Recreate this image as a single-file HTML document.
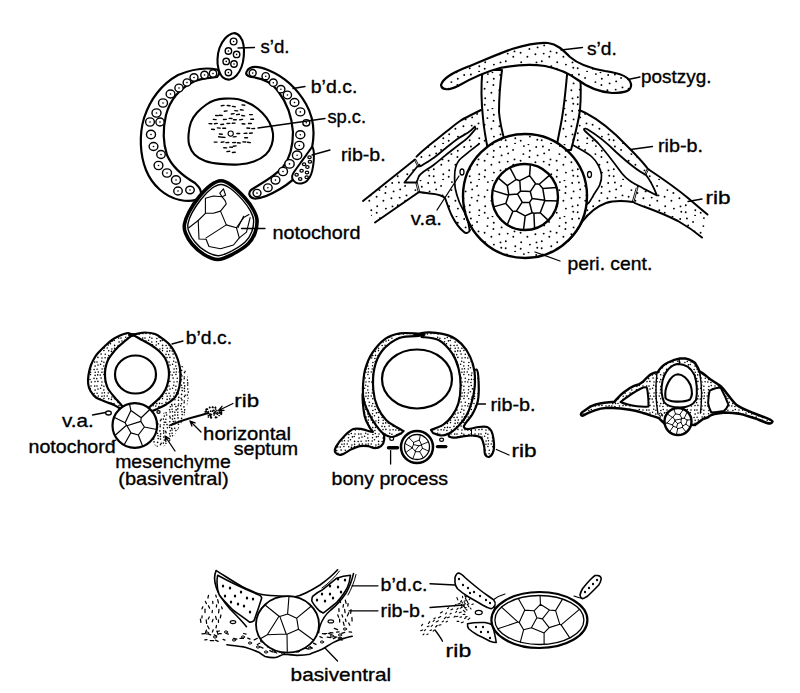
<!DOCTYPE html>
<html><head><meta charset="utf-8"><style>
html,body{margin:0;padding:0;background:#fff;}
svg{display:block;}
text{font-family:"Liberation Sans",sans-serif;fill:#000;stroke:#000;stroke-width:0.35px;}
</style></head><body>
<svg width="800" height="693" viewBox="0 0 800 693">
<defs>
<pattern id="st" width="36" height="36" patternUnits="userSpaceOnUse"><rect width="36" height="36" fill="#fff"/><circle cx="2.9" cy="2.5" r="0.95" fill="#000"/><circle cx="4.2" cy="9.4" r="0.95" fill="#000"/><circle cx="3.7" cy="17.6" r="0.95" fill="#000"/><circle cx="1.8" cy="25.2" r="0.95" fill="#000"/><circle cx="1.7" cy="32.2" r="0.95" fill="#000"/><circle cx="9.1" cy="5.9" r="0.95" fill="#000"/><circle cx="10.5" cy="15.4" r="0.95" fill="#000"/><circle cx="9.3" cy="20.7" r="0.95" fill="#000"/><circle cx="11.3" cy="30.2" r="0.95" fill="#000"/><circle cx="11.1" cy="35.7" r="0.95" fill="#000"/><circle cx="19.9" cy="2.1" r="0.95" fill="#000"/><circle cx="19.4" cy="10.1" r="0.95" fill="#000"/><circle cx="16.6" cy="16.8" r="0.95" fill="#000"/><circle cx="17.2" cy="26.2" r="0.95" fill="#000"/><circle cx="16.7" cy="32.7" r="0.95" fill="#000"/><circle cx="25.8" cy="6.8" r="0.95" fill="#000"/><circle cx="25.4" cy="13.0" r="0.95" fill="#000"/><circle cx="23.4" cy="20.7" r="0.95" fill="#000"/><circle cx="25.9" cy="28.6" r="0.95" fill="#000"/><circle cx="24.5" cy="0.3" r="0.95" fill="#000"/><circle cx="32.2" cy="3.0" r="0.95" fill="#000"/><circle cx="33.6" cy="11.4" r="0.95" fill="#000"/><circle cx="31.4" cy="18.2" r="0.95" fill="#000"/><circle cx="32.5" cy="26.4" r="0.95" fill="#000"/><circle cx="33.3" cy="31.7" r="0.95" fill="#000"/></pattern>
<pattern id="st2" width="24" height="24" patternUnits="userSpaceOnUse"><rect width="24" height="24" fill="#fff"/><circle cx="1.0" cy="2.1" r="0.78" fill="#000"/><circle cx="2.0" cy="5.1" r="0.78" fill="#000"/><circle cx="1.1" cy="9.2" r="0.78" fill="#000"/><circle cx="2.3" cy="12.0" r="0.78" fill="#000"/><circle cx="1.7" cy="14.9" r="0.78" fill="#000"/><circle cx="0.7" cy="18.6" r="0.78" fill="#000"/><circle cx="1.9" cy="21.4" r="0.78" fill="#000"/><circle cx="5.7" cy="1.2" r="0.78" fill="#000"/><circle cx="4.6" cy="4.2" r="0.78" fill="#000"/><circle cx="6.1" cy="9.0" r="0.78" fill="#000"/><circle cx="5.9" cy="12.2" r="0.78" fill="#000"/><circle cx="4.2" cy="15.1" r="0.78" fill="#000"/><circle cx="5.1" cy="18.1" r="0.78" fill="#000"/><circle cx="6.0" cy="22.0" r="0.78" fill="#000"/><circle cx="7.9" cy="2.3" r="0.78" fill="#000"/><circle cx="7.8" cy="6.0" r="0.78" fill="#000"/><circle cx="8.5" cy="8.7" r="0.78" fill="#000"/><circle cx="8.3" cy="12.0" r="0.78" fill="#000"/><circle cx="7.9" cy="14.5" r="0.78" fill="#000"/><circle cx="9.3" cy="18.3" r="0.78" fill="#000"/><circle cx="9.1" cy="21.7" r="0.78" fill="#000"/><circle cx="12.9" cy="2.5" r="0.78" fill="#000"/><circle cx="12.5" cy="5.7" r="0.78" fill="#000"/><circle cx="12.2" cy="9.0" r="0.78" fill="#000"/><circle cx="11.2" cy="12.0" r="0.78" fill="#000"/><circle cx="12.7" cy="14.8" r="0.78" fill="#000"/><circle cx="12.8" cy="19.6" r="0.78" fill="#000"/><circle cx="11.8" cy="22.0" r="0.78" fill="#000"/><circle cx="15.3" cy="1.5" r="0.78" fill="#000"/><circle cx="16.4" cy="4.9" r="0.78" fill="#000"/><circle cx="14.5" cy="7.8" r="0.78" fill="#000"/><circle cx="15.9" cy="13.0" r="0.78" fill="#000"/><circle cx="15.4" cy="15.4" r="0.78" fill="#000"/><circle cx="15.5" cy="19.4" r="0.78" fill="#000"/><circle cx="14.9" cy="22.5" r="0.78" fill="#000"/><circle cx="19.0" cy="2.0" r="0.78" fill="#000"/><circle cx="18.2" cy="4.5" r="0.78" fill="#000"/><circle cx="18.6" cy="9.4" r="0.78" fill="#000"/><circle cx="18.6" cy="12.2" r="0.78" fill="#000"/><circle cx="18.5" cy="14.6" r="0.78" fill="#000"/><circle cx="18.0" cy="19.5" r="0.78" fill="#000"/><circle cx="19.4" cy="22.0" r="0.78" fill="#000"/><circle cx="22.7" cy="2.1" r="0.78" fill="#000"/><circle cx="23.1" cy="6.1" r="0.78" fill="#000"/><circle cx="22.1" cy="9.5" r="0.78" fill="#000"/><circle cx="23.2" cy="12.2" r="0.78" fill="#000"/><circle cx="23.1" cy="15.4" r="0.78" fill="#000"/><circle cx="22.0" cy="18.4" r="0.78" fill="#000"/><circle cx="23.0" cy="21.6" r="0.78" fill="#000"/></pattern>
<pattern id="st3" width="24" height="24" patternUnits="userSpaceOnUse"><circle cx="1.6" cy="1.7" r="0.82" fill="#000"/><circle cx="2.1" cy="4.1" r="0.82" fill="#000"/><circle cx="1.8" cy="8.2" r="0.82" fill="#000"/><circle cx="2.2" cy="9.9" r="0.82" fill="#000"/><circle cx="1.8" cy="13.7" r="0.82" fill="#000"/><circle cx="1.5" cy="17.3" r="0.82" fill="#000"/><circle cx="1.6" cy="19.4" r="0.82" fill="#000"/><circle cx="2.3" cy="22.7" r="0.82" fill="#000"/><circle cx="4.1" cy="1.2" r="0.82" fill="#000"/><circle cx="4.5" cy="3.7" r="0.82" fill="#000"/><circle cx="4.7" cy="7.9" r="0.82" fill="#000"/><circle cx="4.4" cy="11.1" r="0.82" fill="#000"/><circle cx="5.3" cy="13.6" r="0.82" fill="#000"/><circle cx="4.8" cy="15.8" r="0.82" fill="#000"/><circle cx="3.7" cy="20.4" r="0.82" fill="#000"/><circle cx="4.1" cy="22.0" r="0.82" fill="#000"/><circle cx="8.2" cy="1.9" r="0.82" fill="#000"/><circle cx="6.8" cy="4.2" r="0.82" fill="#000"/><circle cx="7.0" cy="7.1" r="0.82" fill="#000"/><circle cx="6.6" cy="10.5" r="0.82" fill="#000"/><circle cx="7.1" cy="13.3" r="0.82" fill="#000"/><circle cx="6.9" cy="15.8" r="0.82" fill="#000"/><circle cx="6.7" cy="20.2" r="0.82" fill="#000"/><circle cx="7.9" cy="22.6" r="0.82" fill="#000"/><circle cx="9.8" cy="0.9" r="0.82" fill="#000"/><circle cx="9.8" cy="4.2" r="0.82" fill="#000"/><circle cx="9.7" cy="7.1" r="0.82" fill="#000"/><circle cx="10.0" cy="9.9" r="0.82" fill="#000"/><circle cx="10.8" cy="13.4" r="0.82" fill="#000"/><circle cx="10.5" cy="16.2" r="0.82" fill="#000"/><circle cx="10.6" cy="20.0" r="0.82" fill="#000"/><circle cx="10.2" cy="21.7" r="0.82" fill="#000"/><circle cx="13.5" cy="1.3" r="0.82" fill="#000"/><circle cx="14.0" cy="3.8" r="0.82" fill="#000"/><circle cx="14.2" cy="6.6" r="0.82" fill="#000"/><circle cx="13.6" cy="10.4" r="0.82" fill="#000"/><circle cx="13.2" cy="14.2" r="0.82" fill="#000"/><circle cx="13.9" cy="15.9" r="0.82" fill="#000"/><circle cx="13.5" cy="19.7" r="0.82" fill="#000"/><circle cx="12.7" cy="21.8" r="0.82" fill="#000"/><circle cx="16.7" cy="1.9" r="0.82" fill="#000"/><circle cx="16.4" cy="4.4" r="0.82" fill="#000"/><circle cx="16.5" cy="7.1" r="0.82" fill="#000"/><circle cx="17.2" cy="11.3" r="0.82" fill="#000"/><circle cx="16.5" cy="12.6" r="0.82" fill="#000"/><circle cx="16.3" cy="17.0" r="0.82" fill="#000"/><circle cx="16.2" cy="18.8" r="0.82" fill="#000"/><circle cx="15.9" cy="22.9" r="0.82" fill="#000"/><circle cx="19.7" cy="1.1" r="0.82" fill="#000"/><circle cx="19.7" cy="5.0" r="0.82" fill="#000"/><circle cx="20.3" cy="8.1" r="0.82" fill="#000"/><circle cx="19.4" cy="11.1" r="0.82" fill="#000"/><circle cx="20.3" cy="14.2" r="0.82" fill="#000"/><circle cx="20.0" cy="16.7" r="0.82" fill="#000"/><circle cx="19.5" cy="20.1" r="0.82" fill="#000"/><circle cx="19.7" cy="22.9" r="0.82" fill="#000"/><circle cx="22.0" cy="0.8" r="0.82" fill="#000"/><circle cx="22.1" cy="4.7" r="0.82" fill="#000"/><circle cx="22.6" cy="7.0" r="0.82" fill="#000"/><circle cx="21.9" cy="11.3" r="0.82" fill="#000"/><circle cx="21.7" cy="14.3" r="0.82" fill="#000"/><circle cx="23.0" cy="16.6" r="0.82" fill="#000"/><circle cx="23.4" cy="19.8" r="0.82" fill="#000"/><circle cx="21.6" cy="23.3" r="0.82" fill="#000"/></pattern>
</defs>
<rect width="800" height="693" fill="#fff"/>
<g stroke="#000" fill="none" stroke-linejoin="round" stroke-linecap="round">
<path d="M217,69.5 C205,67 190,70 178,75 C162,84 150,100 144,118 C139,135 140,155 146,170 C152,185 165,197 180,200 C190,202 197,201 201,196 C202,190 199,187 195,183 C183,176 172,167 167,155 C163,143 163,128 166,115 C170,100 180,88 195,81 C205,77 212,78 217,77 C220,74 220,71 217,69.5 Z" fill="#fff" stroke-width="2.2" />
<path d="M247,71 C250,66 258,66 268,70 C285,77 298,90 306,104 C314,118 315,133 312,148 C308,165 296,180 280,189 C270,195 260,199 254,198.5 C249,197 248,193 251,190 C262,183 274,177 283,167 C291,157 293,145 293,132 C292,117 287,103 278,91 C272,83 262,78 251,77 C247,76 245,74 247,71 Z" fill="#fff" stroke-width="2.2" />
<path d="M233.6,33.2 C236.1,32.9 238.3,34.5 240.0,36.5 C241.7,38.5 242.9,41.8 243.5,45.0 C244.1,48.2 244.1,52.3 243.8,56.0 C243.5,59.7 242.7,63.8 241.5,67.0 C240.3,70.2 238.4,73.4 236.5,75.5 C234.6,77.6 232.2,79.2 230.0,79.5 C227.8,79.8 224.9,79.2 223.0,77.5 C221.1,75.8 219.4,72.1 218.5,69.0 C217.6,65.9 217.3,62.5 217.5,59.0 C217.7,55.5 218.2,51.4 219.5,48.0 C220.8,44.6 222.7,41.0 225.0,38.5 C227.3,36.0 231.1,33.5 233.6,33.2 Z" fill="#fff" stroke-width="2.1" />
<path d="M224.2,98.6 C228.1,98.4 233.8,98.2 238.4,99.2 C243.0,100.2 247.5,102.2 251.5,104.5 C255.5,106.8 259.2,109.8 262.2,112.8 C265.2,115.8 267.5,118.9 269.3,122.3 C271.1,125.7 272.5,129.2 272.9,133.0 C273.3,136.8 272.9,141.3 271.7,144.9 C270.5,148.5 268.8,151.6 265.8,154.4 C262.8,157.2 258.5,159.8 253.9,161.5 C249.3,163.2 244.0,164.1 238.4,164.5 C232.8,164.9 226.1,164.5 220.6,163.9 C215.1,163.3 209.5,162.5 205.2,160.9 C200.8,159.3 197.2,157.1 194.5,154.4 C191.8,151.7 190.2,148.3 189.2,144.9 C188.2,141.5 188.3,138.0 188.6,134.2 C188.9,130.4 189.5,125.9 190.9,122.3 C192.3,118.7 194.3,115.8 196.9,112.8 C199.5,109.8 203.4,106.6 206.4,104.5 C209.4,102.4 211.7,101.3 214.7,100.3 C217.7,99.3 220.2,98.8 224.2,98.6 Z" fill="#fff" stroke-width="2.1" />
<path d="M312.4,147.2 C313.0,148.0 313.8,151.4 313.9,154.4 C314.0,157.4 313.7,161.9 313.2,165.3 C312.7,168.7 312.0,172.2 311.0,174.7 C310.0,177.2 308.8,179.0 307.4,180.4 C305.9,181.8 304.2,182.9 302.3,183.3 C300.4,183.7 297.5,183.4 295.8,182.6 C294.1,181.8 292.7,179.8 292.2,178.3 C291.7,176.9 291.7,176.2 292.9,173.9 C294.1,171.6 297.1,167.8 299.4,164.5 C301.7,161.2 304.9,156.9 306.7,154.4 C308.5,151.9 309.4,150.6 310.3,149.4 C311.2,148.2 311.8,146.4 312.4,147.2 Z" fill="#fff" stroke-width="2.0" />
<path d="M221.0,180.8 C224.3,180.8 227.0,182.1 231.0,185.0 C235.0,187.9 241.2,193.8 245.0,198.0 C248.8,202.2 251.5,206.3 253.5,210.0 C255.5,213.7 256.8,216.2 257.0,220.0 C257.2,223.8 256.5,229.0 255.0,233.0 C253.5,237.0 251.7,240.5 248.0,244.0 C244.3,247.5 238.0,251.4 233.0,254.0 C228.0,256.6 222.8,259.4 218.0,259.5 C213.2,259.6 208.3,257.1 204.0,254.5 C199.7,251.9 195.1,247.6 192.0,244.0 C188.9,240.4 186.8,236.3 185.5,233.0 C184.2,229.7 183.9,227.5 184.5,224.0 C185.1,220.5 186.6,216.5 189.0,212.0 C191.4,207.5 195.3,201.5 199.0,197.0 C202.7,192.5 207.3,187.7 211.0,185.0 C214.7,182.3 217.7,180.8 221.0,180.8 Z" fill="#fff" stroke-width="3.6" />
<path d="M221.0,184.5 C224.0,184.5 226.4,185.7 230.1,188.3 C233.7,190.9 239.3,196.3 242.7,200.1 C246.1,203.9 248.6,207.6 250.4,210.9 C252.2,214.3 253.4,216.5 253.6,220.0 C253.8,223.5 253.1,228.1 251.8,231.8 C250.4,235.4 248.8,238.6 245.4,241.7 C242.1,244.9 236.4,248.4 231.9,250.8 C227.3,253.1 222.7,255.7 218.3,255.7 C213.9,255.8 209.5,253.6 205.6,251.2 C201.7,248.9 197.5,245.0 194.8,241.7 C192.0,238.5 190.0,234.8 188.9,231.8 C187.7,228.7 187.4,226.8 188.0,223.6 C188.5,220.5 189.9,216.8 192.0,212.8 C194.2,208.7 197.8,203.3 201.1,199.2 C204.4,195.1 208.6,190.8 211.9,188.3 C215.3,185.9 218.0,184.5 221.0,184.5 Z" fill="none" stroke-width="1.4"/>
<polyline points="219.8,193.1 223.4,188.8 225.6,195.3 222.0,196.7 219.8,193.1" stroke-width="1.1"/>
<polyline points="205.4,198.2 213.3,196.0 222.0,196.7 224.9,200.3 226.3,203.9 220.5,211.1 213.3,213.3 205.4,213.3 205.4,198.2" stroke-width="1.1"/>
<polyline points="220.5,211.1 226.3,224.9 236.4,227.7 243.6,217.6 249.0,214.5" stroke-width="1.1"/>
<polyline points="226.3,224.9 206.1,237.9" stroke-width="1.1"/>
<polyline points="205.4,213.3 198.2,220.5 199.0,239.0 206.1,239.3 209.0,246.5 220.5,248.7 233.5,245.0 239.3,237.9 236.4,227.7" stroke-width="1.1"/>
<polyline points="188.8,227.7 198.2,220.5" stroke-width="1.1"/>
<polyline points="239.3,237.9 246.5,232.1 250.1,217.6" stroke-width="1.1"/>
<polyline points="243.6,216.2 237.9,227.7" stroke-width="1.1"/>
<ellipse cx="213" cy="73.5" rx="3.72" ry="3.72" fill="#fff" stroke-width="1.4"/>
<circle cx="213" cy="73.5" r="0.8" fill="#000" stroke="none"/>
<ellipse cx="204.5" cy="75" rx="3.72" ry="3.72" fill="#fff" stroke-width="1.4"/>
<circle cx="204.5" cy="75" r="0.8" fill="#000" stroke="none"/>
<ellipse cx="194" cy="77.5" rx="3.99" ry="3.72" fill="#fff" stroke-width="1.4"/>
<circle cx="194" cy="77.5" r="0.8" fill="#000" stroke="none"/>
<ellipse cx="187" cy="82.5" rx="3.86" ry="3.59" fill="#fff" stroke-width="1.4"/>
<circle cx="187" cy="82.5" r="0.8" fill="#000" stroke="none"/>
<ellipse cx="179" cy="88" rx="4.12" ry="3.86" fill="#fff" stroke-width="1.4"/>
<circle cx="179" cy="88" r="0.8" fill="#000" stroke="none"/>
<ellipse cx="170.5" cy="94" rx="4.39" ry="3.99" fill="#fff" stroke-width="1.4"/>
<circle cx="170.5" cy="94" r="0.8" fill="#000" stroke="none"/>
<ellipse cx="163" cy="103" rx="4.52" ry="4.12" fill="#fff" stroke-width="1.4"/>
<circle cx="163" cy="103" r="0.8" fill="#000" stroke="none"/>
<ellipse cx="156.5" cy="113" rx="4.52" ry="4.12" fill="#fff" stroke-width="1.4"/>
<circle cx="156.5" cy="113" r="0.8" fill="#000" stroke="none"/>
<ellipse cx="150" cy="122" rx="4.39" ry="4.12" fill="#fff" stroke-width="1.4"/>
<circle cx="150" cy="122" r="0.8" fill="#000" stroke="none"/>
<ellipse cx="160" cy="122" rx="4.12" ry="3.99" fill="#fff" stroke-width="1.4"/>
<circle cx="160" cy="122" r="0.8" fill="#000" stroke="none"/>
<ellipse cx="151" cy="134.5" rx="4.52" ry="4.26" fill="#fff" stroke-width="1.4"/>
<circle cx="151" cy="134.5" r="0.8" fill="#000" stroke="none"/>
<ellipse cx="153.5" cy="146.5" rx="4.39" ry="3.99" fill="#fff" stroke-width="1.4"/>
<circle cx="153.5" cy="146.5" r="0.8" fill="#000" stroke="none"/>
<ellipse cx="161" cy="154.5" rx="4.26" ry="3.99" fill="#fff" stroke-width="1.4"/>
<circle cx="161" cy="154.5" r="0.8" fill="#000" stroke="none"/>
<ellipse cx="158.5" cy="165.5" rx="4.39" ry="4.12" fill="#fff" stroke-width="1.4"/>
<circle cx="158.5" cy="165.5" r="0.8" fill="#000" stroke="none"/>
<ellipse cx="167" cy="173" rx="4.52" ry="4.12" fill="#fff" stroke-width="1.4"/>
<circle cx="167" cy="173" r="0.8" fill="#000" stroke="none"/>
<ellipse cx="176" cy="180" rx="4.52" ry="4.26" fill="#fff" stroke-width="1.4"/>
<circle cx="176" cy="180" r="0.8" fill="#000" stroke="none"/>
<ellipse cx="178" cy="191" rx="4.26" ry="3.99" fill="#fff" stroke-width="1.4"/>
<circle cx="178" cy="191" r="0.8" fill="#000" stroke="none"/>
<ellipse cx="190" cy="190" rx="4.26" ry="3.72" fill="#fff" stroke-width="1.4"/>
<circle cx="190" cy="190" r="0.8" fill="#000" stroke="none"/>
<ellipse cx="252.7" cy="73" rx="3.46" ry="3.46" fill="#fff" stroke-width="1.4"/>
<circle cx="252.7" cy="73" r="0.8" fill="#000" stroke="none"/>
<ellipse cx="265.7" cy="76.2" rx="3.72" ry="3.59" fill="#fff" stroke-width="1.4"/>
<circle cx="265.7" cy="76.2" r="0.8" fill="#000" stroke="none"/>
<ellipse cx="273.3" cy="82.7" rx="3.86" ry="3.72" fill="#fff" stroke-width="1.4"/>
<circle cx="273.3" cy="82.7" r="0.8" fill="#000" stroke="none"/>
<ellipse cx="280.9" cy="89.2" rx="3.99" ry="3.72" fill="#fff" stroke-width="1.4"/>
<circle cx="280.9" cy="89.2" r="0.8" fill="#000" stroke="none"/>
<ellipse cx="287.4" cy="95" rx="4.12" ry="3.86" fill="#fff" stroke-width="1.4"/>
<circle cx="287.4" cy="95" r="0.8" fill="#000" stroke="none"/>
<ellipse cx="294.5" cy="102.5" rx="4.39" ry="3.99" fill="#fff" stroke-width="1.4"/>
<circle cx="294.5" cy="102.5" r="0.8" fill="#000" stroke="none"/>
<ellipse cx="300.3" cy="111.9" rx="4.52" ry="3.99" fill="#fff" stroke-width="1.4"/>
<circle cx="300.3" cy="111.9" r="0.8" fill="#000" stroke="none"/>
<ellipse cx="306.3" cy="122.8" rx="3.46" ry="3.19" fill="#fff" stroke-width="1.4"/>
<circle cx="306.3" cy="122.8" r="0.8" fill="#000" stroke="none"/>
<ellipse cx="300.3" cy="134.7" rx="4.52" ry="3.99" fill="#fff" stroke-width="1.4"/>
<circle cx="300.3" cy="134.7" r="0.8" fill="#000" stroke="none"/>
<ellipse cx="299.3" cy="145.5" rx="4.66" ry="4.12" fill="#fff" stroke-width="1.4"/>
<circle cx="299.3" cy="145.5" r="0.8" fill="#000" stroke="none"/>
<ellipse cx="297.1" cy="155.2" rx="4.66" ry="4.26" fill="#fff" stroke-width="1.4"/>
<circle cx="297.1" cy="155.2" r="0.8" fill="#000" stroke="none"/>
<ellipse cx="289.5" cy="163.9" rx="4.66" ry="4.26" fill="#fff" stroke-width="1.4"/>
<circle cx="289.5" cy="163.9" r="0.8" fill="#000" stroke="none"/>
<ellipse cx="283" cy="171.5" rx="4.52" ry="4.12" fill="#fff" stroke-width="1.4"/>
<circle cx="283" cy="171.5" r="0.8" fill="#000" stroke="none"/>
<ellipse cx="275.5" cy="180.1" rx="4.39" ry="3.99" fill="#fff" stroke-width="1.4"/>
<circle cx="275.5" cy="180.1" r="0.8" fill="#000" stroke="none"/>
<ellipse cx="267.9" cy="187.7" rx="4.26" ry="3.86" fill="#fff" stroke-width="1.4"/>
<circle cx="267.9" cy="187.7" r="0.8" fill="#000" stroke="none"/>
<ellipse cx="257" cy="193.1" rx="3.99" ry="3.72" fill="#fff" stroke-width="1.4"/>
<circle cx="257" cy="193.1" r="0.8" fill="#000" stroke="none"/>
<ellipse cx="233.6" cy="41.5" rx="3.33" ry="3.33" fill="#fff" stroke-width="1.4"/>
<circle cx="233.6" cy="41.5" r="0.8" fill="#000" stroke="none"/>
<ellipse cx="228.4" cy="51" rx="3.22" ry="3.22" fill="#fff" stroke-width="1.4"/>
<circle cx="228.4" cy="51" r="0.8" fill="#000" stroke="none"/>
<ellipse cx="236.6" cy="54.4" rx="3.22" ry="3.22" fill="#fff" stroke-width="1.4"/>
<circle cx="236.6" cy="54.4" r="0.8" fill="#000" stroke="none"/>
<ellipse cx="226.2" cy="61.4" rx="3.22" ry="3.22" fill="#fff" stroke-width="1.4"/>
<circle cx="226.2" cy="61.4" r="0.8" fill="#000" stroke="none"/>
<ellipse cx="234" cy="64" rx="3.22" ry="3.22" fill="#fff" stroke-width="1.4"/>
<circle cx="234" cy="64" r="0.8" fill="#000" stroke="none"/>
<ellipse cx="228.4" cy="72.6" rx="3.22" ry="3.22" fill="#fff" stroke-width="1.4"/>
<circle cx="228.4" cy="72.6" r="0.8" fill="#000" stroke="none"/>
<ellipse cx="309.5" cy="157.3" rx="1.7" ry="1.4" fill="none" stroke-width="1.2"/>
<ellipse cx="309.9" cy="161.7" rx="1.7" ry="1.4" fill="none" stroke-width="1.2"/>
<ellipse cx="304.1" cy="164.2" rx="1.7" ry="1.4" fill="none" stroke-width="1.2"/>
<ellipse cx="307.4" cy="167.1" rx="1.7" ry="1.4" fill="none" stroke-width="1.2"/>
<ellipse cx="301.6" cy="170.7" rx="1.7" ry="1.4" fill="none" stroke-width="1.2"/>
<ellipse cx="307" cy="172.5" rx="1.7" ry="1.4" fill="none" stroke-width="1.2"/>
<ellipse cx="296.6" cy="174.7" rx="1.7" ry="1.4" fill="none" stroke-width="1.2"/>
<ellipse cx="306.7" cy="177.2" rx="1.7" ry="1.4" fill="none" stroke-width="1.2"/>
<ellipse cx="300.2" cy="179" rx="1.7" ry="1.4" fill="none" stroke-width="1.2"/>
<line x1="221.3" y1="105.8" x2="224.1" y2="105.4" stroke-width="1.4"/>
<line x1="227.2" y1="105.5" x2="230.0" y2="105.8" stroke-width="1.4"/>
<line x1="232.4" y1="106.4" x2="235.2" y2="106.7" stroke-width="1.4"/>
<line x1="242.0" y1="104.9" x2="244.8" y2="105.2" stroke-width="1.4"/>
<line x1="224.3" y1="111.2" x2="227.1" y2="110.9" stroke-width="1.4"/>
<line x1="234.8" y1="110.6" x2="237.6" y2="110.9" stroke-width="1.4"/>
<line x1="240.4" y1="109.8" x2="243.2" y2="110.1" stroke-width="1.4"/>
<line x1="215.7" y1="115.5" x2="218.5" y2="115.6" stroke-width="1.4"/>
<line x1="219.4" y1="115.2" x2="222.2" y2="115.5" stroke-width="1.4"/>
<line x1="231.3" y1="114.0" x2="234.1" y2="113.6" stroke-width="1.4"/>
<line x1="236.6" y1="114.6" x2="239.4" y2="114.3" stroke-width="1.4"/>
<line x1="241.8" y1="115.5" x2="244.6" y2="115.9" stroke-width="1.4"/>
<line x1="249.6" y1="114.6" x2="252.4" y2="114.6" stroke-width="1.4"/>
<line x1="213.3" y1="119.4" x2="216.1" y2="119.6" stroke-width="1.4"/>
<line x1="223.5" y1="119.5" x2="226.3" y2="119.4" stroke-width="1.4"/>
<line x1="229.2" y1="118.4" x2="232.0" y2="118.5" stroke-width="1.4"/>
<line x1="233.5" y1="119.7" x2="236.3" y2="119.8" stroke-width="1.4"/>
<line x1="239.8" y1="119.8" x2="242.6" y2="119.4" stroke-width="1.4"/>
<line x1="250.8" y1="119.3" x2="253.6" y2="119.2" stroke-width="1.4"/>
<line x1="209.0" y1="123.6" x2="211.8" y2="123.7" stroke-width="1.4"/>
<line x1="214.5" y1="123.8" x2="217.3" y2="123.4" stroke-width="1.4"/>
<line x1="220.8" y1="124.5" x2="223.6" y2="124.2" stroke-width="1.4"/>
<line x1="227.0" y1="123.5" x2="229.8" y2="123.4" stroke-width="1.4"/>
<line x1="232.3" y1="123.2" x2="235.1" y2="123.1" stroke-width="1.4"/>
<line x1="242.1" y1="123.7" x2="244.9" y2="124.0" stroke-width="1.4"/>
<line x1="248.5" y1="123.5" x2="251.3" y2="123.5" stroke-width="1.4"/>
<line x1="211.6" y1="129.2" x2="214.4" y2="129.5" stroke-width="1.4"/>
<line x1="217.4" y1="127.9" x2="220.2" y2="128.1" stroke-width="1.4"/>
<line x1="222.8" y1="128.3" x2="225.6" y2="128.2" stroke-width="1.4"/>
<line x1="246.9" y1="128.0" x2="249.7" y2="128.3" stroke-width="1.4"/>
<line x1="251.8" y1="128.6" x2="254.6" y2="128.5" stroke-width="1.4"/>
<line x1="219.4" y1="134.0" x2="222.2" y2="134.3" stroke-width="1.4"/>
<line x1="236.9" y1="133.5" x2="239.7" y2="133.5" stroke-width="1.4"/>
<line x1="244.1" y1="133.4" x2="246.9" y2="133.2" stroke-width="1.4"/>
<line x1="249.5" y1="133.2" x2="252.3" y2="133.0" stroke-width="1.4"/>
<line x1="218.6" y1="136.8" x2="221.4" y2="137.1" stroke-width="1.4"/>
<line x1="222.2" y1="137.3" x2="225.0" y2="137.4" stroke-width="1.4"/>
<line x1="233.3" y1="136.9" x2="236.1" y2="136.6" stroke-width="1.4"/>
<line x1="244.7" y1="137.8" x2="247.5" y2="137.7" stroke-width="1.4"/>
<line x1="214.2" y1="142.1" x2="217.0" y2="142.1" stroke-width="1.4"/>
<line x1="221.2" y1="142.2" x2="224.0" y2="141.9" stroke-width="1.4"/>
<line x1="225.9" y1="142.6" x2="228.7" y2="142.5" stroke-width="1.4"/>
<line x1="232.6" y1="142.6" x2="235.4" y2="142.5" stroke-width="1.4"/>
<line x1="237.4" y1="142.8" x2="240.2" y2="143.0" stroke-width="1.4"/>
<line x1="242.9" y1="141.9" x2="245.7" y2="142.0" stroke-width="1.4"/>
<line x1="247.5" y1="142.2" x2="250.3" y2="142.6" stroke-width="1.4"/>
<line x1="223.8" y1="147.8" x2="226.6" y2="147.9" stroke-width="1.4"/>
<line x1="229.6" y1="147.1" x2="232.4" y2="147.2" stroke-width="1.4"/>
<line x1="233.3" y1="146.3" x2="236.1" y2="145.9" stroke-width="1.4"/>
<line x1="226.9" y1="151.6" x2="229.7" y2="151.3" stroke-width="1.4"/>
<line x1="232.4" y1="152.5" x2="235.2" y2="152.3" stroke-width="1.4"/>
<circle cx="230.7" cy="133.6" r="2.6" fill="#fff" stroke-width="1.1"/>
<line x1="238" y1="48" x2="254.5" y2="47.5" stroke-width="1.3"/>
<line x1="293" y1="88.5" x2="305" y2="86.5" stroke-width="1.3"/>
<line x1="258" y1="128" x2="325" y2="118.5" stroke-width="1.3"/>
<line x1="312" y1="155" x2="330" y2="150" stroke-width="1.3"/>
<line x1="241.5" y1="228.5" x2="265" y2="228.5" stroke-width="1.3"/>
<text x="260.4" y="52.7" textLength="29.1" lengthAdjust="spacingAndGlyphs" font-size="19">s’d.</text>
<text x="310.8" y="93.4" textLength="46.5" lengthAdjust="spacingAndGlyphs" font-size="19">b’d.c.</text>
<text x="327.4" y="122.5" textLength="38.7" lengthAdjust="spacingAndGlyphs" font-size="19">sp.c.</text>
<text x="341.0" y="160.9" textLength="44.7" lengthAdjust="spacingAndGlyphs" font-size="19">rib-b.</text>
<text x="272.4" y="238.8" textLength="88.1" lengthAdjust="spacingAndGlyphs" font-size="19">notochord</text>
<path d="M363,201 L415,159.5 L416.5,156.6 C420,153 424,149.5 428.1,146.2 C432,143 436,140 439.6,137 C443.5,134 447.5,130.6 451.2,127.7 C454.5,125 457.5,122.8 460.4,120.8 C463,119 466,117.5 470,115.5 C474,113.5 478,111.5 481,110 L492,125 L495,165 L470,205 L470,230 C469,233 466,234 464,232 C459,228 455,222 452,216 C449,210 447,203 445,198 C442,195 436,194 430,193.5 C426,193 422,192.5 419,192 L375,222.5 Z" fill="url(#st)" stroke-width="0" />
<path d="M363,201 L415,159.5 M416.5,156.6 C420,153 424,149.5 428.1,146.2 C432,143 436,140 439.6,137 C443.5,134 447.5,130.6 451.2,127.7 C454.5,125 457.5,122.8 460.4,120.8 C463,119 466,117.5 470,115.5 C474,113.5 478,111.5 481,110 M419,192 L375,222.5 M419,192 C422,192.5 426,193 430,193.5 C436,194 442,195 445,198 C447,203 449,210 452,216 C455,222 459,228 464,232 C466,234 469,233 470,230" stroke-width="2"/>
<path d="M421.0,166.0 C423.1,164.6 429.8,160.6 433.9,157.7 C438.0,154.8 441.5,151.6 445.4,148.5 C449.2,145.4 453.1,141.9 457.0,139.2 C460.9,136.5 465.5,134.4 468.5,132.3 C471.5,130.2 473.8,127.5 474.9,126.5 L475.6,129.0 C474.2,130.5 470.5,135.2 467.4,138.1 C464.3,141.0 460.7,143.3 457.0,146.2 C453.3,149.1 449.2,152.3 445.4,155.4 C441.5,158.5 437.8,161.8 433.9,164.7 C430.0,167.6 424.8,170.8 422.3,172.7 C419.8,174.6 419.5,175.6 418.9,176.2 L416.5,182.5 L404.4,182.5 L417.3,166.5 Z" fill="#fff" stroke-width="1.8" />
<path d="M479.0,144.0 C477.1,145.5 470.7,150.4 467.4,153.1 C464.1,155.8 461.3,157.6 459.3,160.0 C457.3,162.4 456.4,164.7 455.6,167.5 C454.8,170.3 454.6,173.4 454.6,177.0 C454.6,180.6 454.6,184.8 455.4,189.0 C456.2,193.2 457.8,198.1 459.3,202.0 C460.8,205.9 463.6,210.8 464.5,212.5 L490,190 L495,150 Z" fill="#fff" stroke-width="0" />
<path d="M479.0,144.0 C477.1,145.5 470.7,150.4 467.4,153.1 C464.1,155.8 461.3,157.6 459.3,160.0 C457.3,162.4 456.4,164.7 455.6,167.5 C454.8,170.3 454.6,173.4 454.6,177.0 C454.6,180.6 454.6,184.8 455.4,189.0 C456.2,193.2 457.8,198.1 459.3,202.0 C460.8,205.9 463.1,209.2 464.5,212.5 C465.9,215.8 467.2,219.1 468.0,222.0 C468.8,224.9 469.2,228.7 469.5,230.0" stroke-width="1.7"/>
<ellipse cx="462" cy="172" rx="2" ry="3" fill="#fff" stroke-width="1.3"/>
<path d="M577,109 C590,114 603,123 616,135 C628,147 640,158 648,169 C660,177 676,188 688,198 C695,204 702,210 707.5,214.5 L702,237.5 C693,230 685,225 678,221 C668,216 656,211 645,207 C640,205 636,204 633,202 C625,201 615,200 606,203 C595,207 588,214 582,222 C578,230 573,236 568,241 L555,200 L560,130 Z" fill="url(#st)" stroke-width="0" />
<path d="M577,109 C590,114 603,123 616,135 C628,147 640,158 648,169 C660,177 676,188 688,198 C695,204 702,210 707.5,214.5 M702,237.5 C693,230 685,225 678,221 C668,216 656,211 645,207 C640,205 636,204 633,202 C625,201 615,200 606,203 C595,207 588,214 582,222 C578,230 573,236 568,241" stroke-width="2"/>
<path d="M585,131 C583,129 584,128 587,129 C597,135 607,143 616,152 C627,162 638,171 646,175 C650,180 654,188 657,195.5 C652,193 646,190 641,187 C634,184 628,181 622,173.5 C615,164 606,152 598,143 C593,138 588,134 585,131 Z" fill="#fff" stroke-width="1.8" />
<path d="M568.0,142.5 C570.3,143.7 577.7,147.6 581.6,149.9 C585.5,152.2 588.8,154.0 591.5,156.5 C594.2,159.0 596.4,161.8 598.1,164.8 C599.8,167.9 601.2,171.5 601.5,174.8 C601.8,178.1 600.9,181.7 599.8,184.7 C598.7,187.7 596.4,190.2 594.8,193.0 C593.1,195.8 591.1,199.5 589.9,201.3 C588.7,203.1 587.9,203.6 587.5,204.0 L560,190 L555,150 Z" fill="#fff" stroke-width="0" />
<path d="M568.0,142.5 C570.3,143.7 577.7,147.6 581.6,149.9 C585.5,152.2 588.8,154.0 591.5,156.5 C594.2,159.0 596.4,161.8 598.1,164.8 C599.8,167.9 601.2,171.5 601.5,174.8 C601.8,178.1 600.9,181.7 599.8,184.7 C598.7,187.7 596.4,190.2 594.8,193.0 C593.1,195.8 591.1,199.5 589.9,201.3 C588.7,203.1 587.9,203.6 587.5,204.0" stroke-width="1.7"/>
<ellipse cx="589.5" cy="174.5" rx="2" ry="3" fill="#fff" stroke-width="1.3"/>
<path d="M414.2,159.5 L417.7,166.5 M415.8,159.5 L419.3,166.5" stroke-width="0.9"/>
<path d="M415.7,182.5 L418.2,192 M417.3,182.5 L419.8,192" stroke-width="0.9"/>
<path d="M647.2,169 L644.2,175 M648.8,169 L645.8,175" stroke-width="0.9"/>
<path d="M636.2,188 L632.2,202 M637.8,188 L633.8,202" stroke-width="0.9"/>
<path d="M482.5,70 C481,85 481,100 483,118 C484,130 486,140 488,150 L506,146 C503,135 500,125 499,112 C499,98 500,85 502,70 Z" fill="url(#st)" stroke-width="2" />
<path d="M567.5,70 C566,85 565,100 562,118 C560,130 558,138 556,150 L571,150 C574,138 578,125 580,110 C581,98 581,85 580,72 Z" fill="url(#st)" stroke-width="2" />
<path d="M441,85 C443,78 452,73 467,67 C480,62 495,55 512,49 C525,45 538,42 548,43 C557,44 563,50 570,57 C578,64 588,68 605,71 C620,73 630,77 631,84 C632,91 625,93 612,93 C600,92 590,89 578,80 C570,74 560,69 545,66 C530,64 515,65 500,68 C485,72 470,79 458,86 C450,90 442,91 441,85 Z" fill="url(#st)" stroke-width="2.2" />
<circle cx="525" cy="196" r="62" fill="url(#st)" stroke-width="2.4"/>
<circle cx="525" cy="197" r="33" fill="#fff" stroke-width="2.4"/>
<path d="M509.9,167.7 L516.1,179.5 M529.6,175.6 L530.4,164.5 M529.6,175.6 L519.8,180.7 M519.8,180.7 L516.1,179.5 M516.1,179.5 L507.3,185.6 M507.3,185.6 L498.1,177.9 M534.6,228.6 L533.9,213.2 M548.3,220.4 L540.2,212.8 M533.9,213.2 L540.2,212.8 M557.7,201.0 L544.9,200.4 M540.2,212.8 L544.9,200.4 M507.2,224.7 L512.9,211.4 M493.5,206.9 L505.8,203.4 M512.9,211.4 L505.8,203.4 M492.7,190.4 L508.5,195.2 M505.8,203.4 L508.5,195.2 M520.5,191.1 L519.8,180.7 M520.5,191.1 L517.5,194.0 M507.3,185.6 L508.8,194.8 M517.5,194.0 L508.8,194.8 M508.8,194.8 L508.5,195.2 M525.2,215.9 L516.4,211.1 M525.2,215.9 L532.1,212.7 M532.1,212.7 L529.5,202.4 M516.4,211.1 L522.2,202.2 M529.5,202.4 L522.2,202.2 M523.5,230.0 L525.2,215.9 M512.9,211.4 L516.4,211.1 M533.9,213.2 L532.1,212.7 M517.5,194.0 L522.2,202.2 M532.1,198.6 L544.7,200.2 M532.1,198.6 L530.3,191.6 M544.7,200.2 L542.8,188.6 M530.3,191.6 L535.6,183.7 M542.8,188.6 L539.2,184.3 M535.6,183.7 L539.2,184.3 M544.9,200.4 L544.7,200.2 M529.5,202.4 L532.1,198.6 M520.5,191.1 L530.3,191.6 M556.6,187.4 L542.8,188.6 M529.6,175.6 L535.6,183.7 M549.7,175.1 L539.2,184.3" stroke-width="1.5"/>
<line x1="561" y1="50" x2="582.5" y2="47.5" stroke-width="1.3"/>
<line x1="628" y1="79.5" x2="640" y2="77" stroke-width="1.3"/>
<line x1="630.5" y1="149.5" x2="652.5" y2="146.5" stroke-width="1.3"/>
<line x1="688" y1="201.5" x2="702" y2="199" stroke-width="1.3"/>
<line x1="535" y1="252" x2="560" y2="261" stroke-width="1.3"/>
<line x1="437" y1="210" x2="459" y2="176" stroke-width="1.3"/>
<text x="586.9" y="55.2" textLength="29.9" lengthAdjust="spacingAndGlyphs" font-size="19">s’d.</text>
<text x="641.1" y="82.8" textLength="70.4" lengthAdjust="spacingAndGlyphs" font-size="19">postzyg.</text>
<text x="658.0" y="152.3" textLength="45.1" lengthAdjust="spacingAndGlyphs" font-size="19">rib-b.</text>
<text x="705.5" y="203.9" textLength="25.1" lengthAdjust="spacingAndGlyphs" font-size="19">rib</text>
<text x="410.8" y="225.0" textLength="31.1" lengthAdjust="spacingAndGlyphs" font-size="19">v.a.</text>
<text x="567.4" y="269.6" textLength="84.9" lengthAdjust="spacingAndGlyphs" font-size="19">peri. cent.</text>
<path d="M176.0,362.0 C177.0,359.2 181.9,365.0 184.0,368.0 C186.1,371.0 187.7,375.5 188.5,380.0 C189.3,384.5 189.4,390.0 189.0,395.0 C188.6,400.0 187.3,405.2 186.0,410.0 C184.7,414.8 183.0,419.7 181.0,424.0 C179.0,428.3 176.5,432.5 174.0,436.0 C171.5,439.5 168.7,443.2 166.0,445.0 C163.3,446.8 160.2,447.5 158.0,447.0 C155.8,446.5 153.3,444.8 153.0,442.0 C152.7,439.2 154.8,434.0 156.0,430.0 C157.2,426.0 158.0,421.7 160.0,418.0 C162.0,414.3 165.5,411.3 168.0,408.0 C170.5,404.7 173.3,401.8 175.0,398.0 C176.7,394.2 177.8,391.0 178.0,385.0 C178.2,379.0 175.0,364.8 176.0,362.0 Z" fill="url(#st3)" stroke-width="0" />
<path d="M132.5,334.8 C131.8,334.5 130.1,332.9 128.0,333.0 C125.9,333.1 122.7,334.3 120.0,335.5 C117.3,336.7 114.5,338.2 112.0,340.0 C109.5,341.8 107.2,344.0 105.0,346.0 C102.8,348.0 100.7,350.2 99.0,352.0 C97.3,353.8 96.3,354.8 95.0,357.0 C93.7,359.2 92.1,362.0 91.0,365.0 C89.9,368.0 89.0,371.8 88.5,375.0 C88.0,378.2 87.9,381.3 88.2,384.0 C88.5,386.7 89.2,388.8 90.5,391.0 C91.8,393.2 93.6,395.8 96.0,397.5 C98.4,399.2 102.0,400.2 105.0,401.5 C108.0,402.8 111.5,403.8 114.0,405.0 C116.5,406.2 118.4,407.4 120.0,408.5 C121.6,409.6 122.9,411.0 123.5,411.5 L124.0,409.0 C123.4,408.2 122.0,405.9 120.5,404.0 C119.0,402.1 116.7,399.9 114.7,397.5 C112.7,395.1 110.0,391.9 108.5,389.5 C107.0,387.1 106.6,385.2 106.0,383.0 C105.4,380.8 105.1,378.5 105.0,376.0 C104.9,373.5 105.0,370.7 105.5,368.0 C106.0,365.3 106.9,362.3 108.0,360.0 C109.1,357.7 110.3,356.2 112.0,354.0 C113.7,351.8 115.8,349.2 118.0,347.0 C120.2,344.8 122.9,342.8 125.0,341.0 C127.1,339.2 129.2,337.4 130.5,336.5 C131.8,335.6 132.2,335.7 132.5,335.5 Z" fill="url(#st2)" stroke-width="2.2" />
<path d="M132.5,334.8 C133.1,334.7 133.9,334.4 136.0,334.0 C138.1,333.6 141.8,332.5 145.0,332.5 C148.2,332.5 152.0,332.9 155.0,334.0 C158.0,335.1 160.7,337.3 163.0,339.0 C165.3,340.7 167.2,342.0 169.0,344.0 C170.8,346.0 172.5,348.3 174.0,351.0 C175.5,353.7 176.9,356.4 178.0,360.0 C179.1,363.6 180.2,368.1 180.4,372.5 C180.6,376.9 180.2,382.6 179.4,386.7 C178.6,390.8 177.6,393.8 175.4,396.8 C173.2,399.8 169.0,402.5 166.0,404.5 C163.0,406.5 159.9,407.6 157.2,408.9 C154.5,410.1 151.2,411.5 150.0,412.0 L147.0,409.5 C147.8,408.7 149.8,406.9 152.1,404.8 C154.3,402.7 158.3,399.6 160.5,397.0 C162.7,394.4 164.2,392.0 165.5,389.5 C166.8,387.0 167.4,384.6 168.0,382.0 C168.6,379.4 169.0,376.7 169.0,374.0 C169.0,371.3 168.7,368.7 168.0,366.0 C167.3,363.3 166.5,360.5 165.0,358.0 C163.5,355.5 161.3,353.2 159.0,351.0 C156.7,348.8 153.8,346.8 151.0,345.0 C148.2,343.2 144.7,341.5 142.0,340.0 C139.3,338.5 136.6,336.8 135.0,336.0 C133.4,335.2 132.9,335.6 132.5,335.5 Z" fill="url(#st2)" stroke-width="2.2" />
<path d="M129.5,334.8 L134.5,334.8" stroke-width="3"/>
<ellipse cx="135.5" cy="374.5" rx="20.5" ry="19" fill="#fff" stroke-width="2.2"/>
<circle cx="134.8" cy="425.5" r="22.3" fill="#fff" stroke-width="2.2"/>
<path d="M129.5,403.8 L130.9,410.6 M114.1,417.3 L125.1,422.7 M130.9,410.6 L125.1,422.7 M150.0,409.2 L141.2,417.7 M130.9,410.6 L141.2,417.7 M142.7,446.4 L138.3,435.0 M144.4,427.0 L156.7,429.5 M144.4,427.0 L138.3,435.0 M140.8,421.4 L141.2,417.7 M140.8,421.4 L144.4,427.0 M124.0,445.0 L130.9,432.8 M114.9,435.5 L126.5,425.3 M130.9,432.8 L127.0,425.7 M127.0,425.7 L126.5,425.3 M138.3,435.0 L130.9,432.8 M125.1,422.7 L126.5,425.3 M140.8,421.4 L127.0,425.7" stroke-width="1.2"/>
<ellipse cx="108.5" cy="413" rx="2.8" ry="2" fill="#fff" stroke-width="1.3"/>
<ellipse cx="158.5" cy="412" rx="1.6" ry="1.4" fill="#fff" stroke-width="1.2"/>
<path d="M171,425 C180,421 190,418 198,416 C202,415 205,414 208,413" stroke-width="2"/>
<circle cx="207.4" cy="409.2" r="0.85" fill="#000" stroke="none"/>
<circle cx="215.4" cy="407.4" r="0.85" fill="#000" stroke="none"/>
<circle cx="212.4" cy="407.2" r="0.85" fill="#000" stroke="none"/>
<circle cx="219.0" cy="413.2" r="0.85" fill="#000" stroke="none"/>
<circle cx="219.8" cy="410.9" r="0.85" fill="#000" stroke="none"/>
<circle cx="215.5" cy="411.4" r="0.85" fill="#000" stroke="none"/>
<circle cx="208.6" cy="413.0" r="0.85" fill="#000" stroke="none"/>
<circle cx="206.4" cy="411.4" r="0.85" fill="#000" stroke="none"/>
<circle cx="217.2" cy="412.7" r="0.85" fill="#000" stroke="none"/>
<circle cx="211.4" cy="417.7" r="0.85" fill="#000" stroke="none"/>
<circle cx="213.3" cy="410.3" r="0.85" fill="#000" stroke="none"/>
<circle cx="214.0" cy="410.5" r="0.85" fill="#000" stroke="none"/>
<circle cx="210.6" cy="411.2" r="0.85" fill="#000" stroke="none"/>
<circle cx="221.4" cy="412.6" r="0.85" fill="#000" stroke="none"/>
<circle cx="214.1" cy="415.0" r="0.85" fill="#000" stroke="none"/>
<circle cx="221.4" cy="411.9" r="0.85" fill="#000" stroke="none"/>
<circle cx="210.9" cy="417.7" r="0.85" fill="#000" stroke="none"/>
<circle cx="205.8" cy="411.4" r="0.85" fill="#000" stroke="none"/>
<circle cx="215.5" cy="417.6" r="0.85" fill="#000" stroke="none"/>
<circle cx="209.8" cy="407.5" r="0.85" fill="#000" stroke="none"/>
<circle cx="216.9" cy="410.6" r="0.85" fill="#000" stroke="none"/>
<circle cx="210.6" cy="414.2" r="0.85" fill="#000" stroke="none"/>
<circle cx="214.4" cy="413.6" r="0.85" fill="#000" stroke="none"/>
<circle cx="210.8" cy="416.6" r="0.85" fill="#000" stroke="none"/>
<circle cx="220.4" cy="412.6" r="0.85" fill="#000" stroke="none"/>
<circle cx="210.4" cy="415.1" r="0.85" fill="#000" stroke="none"/>
<circle cx="215.6" cy="409.0" r="0.85" fill="#000" stroke="none"/>
<circle cx="210.5" cy="416.0" r="0.85" fill="#000" stroke="none"/>
<circle cx="212.4" cy="411.2" r="0.85" fill="#000" stroke="none"/>
<circle cx="214.3" cy="412.4" r="0.85" fill="#000" stroke="none"/>
<circle cx="213.0" cy="407.4" r="0.85" fill="#000" stroke="none"/>
<circle cx="220.9" cy="413.1" r="0.85" fill="#000" stroke="none"/>
<circle cx="208.4" cy="415.6" r="0.85" fill="#000" stroke="none"/>
<circle cx="214.9" cy="412.6" r="0.85" fill="#000" stroke="none"/>
<circle cx="216.7" cy="417.4" r="0.85" fill="#000" stroke="none"/>
<circle cx="215.6" cy="417.0" r="0.85" fill="#000" stroke="none"/>
<circle cx="220.9" cy="410.2" r="0.85" fill="#000" stroke="none"/>
<circle cx="210.0" cy="415.2" r="0.85" fill="#000" stroke="none"/>
<circle cx="205.2" cy="411.8" r="0.85" fill="#000" stroke="none"/>
<circle cx="219.1" cy="415.5" r="0.85" fill="#000" stroke="none"/>
<circle cx="215.4" cy="407.6" r="0.85" fill="#000" stroke="none"/>
<circle cx="221.5" cy="413.7" r="0.85" fill="#000" stroke="none"/>
<circle cx="217.4" cy="414.2" r="0.85" fill="#000" stroke="none"/>
<circle cx="206.4" cy="409.1" r="0.85" fill="#000" stroke="none"/>
<circle cx="208.4" cy="417.0" r="0.85" fill="#000" stroke="none"/>
<circle cx="208.2" cy="411.6" r="0.85" fill="#000" stroke="none"/>
<circle cx="211.5" cy="414.6" r="0.85" fill="#000" stroke="none"/>
<circle cx="216.1" cy="413.5" r="0.85" fill="#000" stroke="none"/>
<circle cx="209.6" cy="407.4" r="0.85" fill="#000" stroke="none"/>
<circle cx="214.0" cy="413.5" r="0.85" fill="#000" stroke="none"/>
<circle cx="219.5" cy="412.2" r="0.85" fill="#000" stroke="none"/>
<circle cx="209.4" cy="414.0" r="0.85" fill="#000" stroke="none"/>
<circle cx="206.2" cy="409.7" r="0.85" fill="#000" stroke="none"/>
<circle cx="207.4" cy="413.5" r="0.85" fill="#000" stroke="none"/>
<circle cx="221.1" cy="414.3" r="0.85" fill="#000" stroke="none"/>
<path d="M233,403.5 L218.5,410.5 M222.0,406.3 L218.5,410.5 L224.0,410.4" stroke-width="1.3"/>
<path d="M201,432 L190,421 M195.1,422.9 L190,421 L191.9,426.1" stroke-width="1.3"/>
<path d="M175,451 L165,436 M169.6,438.9 L165,436 L165.9,441.4" stroke-width="1.3"/>
<line x1="92.5" y1="415" x2="105.5" y2="412.5" stroke-width="1.3"/>
<line x1="112" y1="442" x2="116" y2="440" stroke-width="1.3"/>
<text x="185.8" y="344.3" textLength="46.3" lengthAdjust="spacingAndGlyphs" font-size="19">b’d.c.</text>
<line x1="172" y1="344" x2="183" y2="341" stroke-width="1.3"/>
<text x="61.9" y="426.8" textLength="31.8" lengthAdjust="spacingAndGlyphs" font-size="19">v.a.</text>
<text x="28.5" y="452.5" textLength="87.2" lengthAdjust="spacingAndGlyphs" font-size="19">notochord</text>
<text x="234.3" y="406.8" textLength="24.8" lengthAdjust="spacingAndGlyphs" font-size="19">rib</text>
<text x="203.1" y="440.2" textLength="88.0" lengthAdjust="spacingAndGlyphs" font-size="19">horizontal</text>
<text x="233.7" y="455.2" textLength="64.3" lengthAdjust="spacingAndGlyphs" font-size="19">septum</text>
<text x="115.2" y="467.7" textLength="115.5" lengthAdjust="spacingAndGlyphs" font-size="19">mesenchyme</text>
<text x="118.3" y="485.2" textLength="110.3" lengthAdjust="spacingAndGlyphs" font-size="19">(basiventral)</text>
<path d="M363.0,393.0 C361.8,395.7 363.4,410.2 364.6,416.0 C365.8,421.8 368.7,425.3 370.0,428.0 C371.3,430.7 373.9,431.8 372.5,432.0 C371.1,432.2 365.1,429.6 361.9,429.1 C358.7,428.6 356.2,428.0 353.4,429.1 C350.6,430.2 347.7,432.7 344.9,435.5 C342.1,438.3 338.0,443.3 336.4,446.1 C334.8,448.9 334.4,451.1 335.3,452.5 C336.2,453.9 339.0,455.1 341.7,454.6 C344.4,454.1 348.3,450.7 351.3,449.3 C354.3,447.9 356.9,446.6 359.7,446.1 C362.5,445.6 365.7,445.8 368.2,446.1 C370.7,446.5 372.5,448.2 374.6,448.2 C376.7,448.2 379.4,447.5 381.0,446.1 C382.6,444.7 384.0,443.2 384.2,439.7 C384.4,436.2 384.0,431.6 382.0,425.0 C380.0,418.4 375.2,405.3 372.0,400.0 C368.8,394.7 364.2,390.3 363.0,393.0 Z" fill="url(#st2)" stroke-width="2.2" />
<path d="M476.6,369.6 C478.4,370.4 478.5,379.2 478.7,384.5 C478.9,389.8 478.8,396.6 477.7,401.5 C476.6,406.4 474.3,410.7 472.4,414.2 C470.4,417.7 467.4,420.6 466.0,422.7 C464.6,424.8 463.5,425.9 463.9,427.0 C464.2,428.1 465.6,429.1 468.1,429.1 C470.6,429.1 475.5,427.4 478.7,427.0 C481.9,426.6 485.1,426.3 487.2,427.0 C489.3,427.7 490.4,429.1 491.5,431.2 C492.6,433.3 493.2,436.5 493.6,439.7 C494.0,442.9 494.3,447.6 493.6,450.4 C492.9,453.2 490.8,456.0 489.4,456.7 C488.0,457.4 486.0,456.4 485.1,454.6 C484.2,452.8 484.8,448.9 484.1,446.1 C483.4,443.3 482.8,439.4 480.9,437.6 C478.9,435.8 475.6,435.7 472.4,435.5 C469.2,435.3 464.9,436.2 461.7,436.6 C458.5,437.0 455.3,438.1 453.2,437.6 C451.1,437.1 447.5,438.0 449.0,433.4 C450.5,428.8 458.8,418.9 462.0,410.0 C465.2,401.1 465.6,386.7 468.0,380.0 C470.4,373.3 474.8,368.9 476.6,369.6 Z" fill="url(#st2)" stroke-width="2.2" />
<line x1="471.5" y1="428.5" x2="471.5" y2="436" stroke-width="1"/>
<path d="M419.0,333.5 C415.8,333.5 405.6,332.4 400.0,333.3 C394.4,334.2 389.8,335.6 385.2,338.8 C380.6,342.0 375.9,347.5 372.5,352.6 C369.1,357.7 366.7,363.6 365.1,369.6 C363.5,375.6 363.1,383.4 362.9,388.7 C362.7,394.0 362.9,397.2 364.0,401.5 C365.1,405.8 367.4,410.3 369.3,414.2 C371.2,418.1 373.4,421.7 375.7,424.9 C378.0,428.1 380.4,431.4 383.1,433.4 C385.8,435.4 389.0,437.0 392.0,437.0 C395.0,437.0 399.5,434.1 401.0,433.5 L403.6,431.0 C402.5,430.4 400.0,429.3 397.1,427.5 C394.2,425.7 389.6,423.7 386.3,420.3 C383.1,416.9 379.8,412.4 377.6,407.3 C375.4,402.2 373.8,396.5 373.3,390.0 C372.8,383.5 372.9,374.8 374.4,368.3 C375.8,361.8 377.9,356.1 382.0,351.0 C386.1,345.9 393.1,340.5 399.3,338.0 C405.5,335.5 415.7,336.3 419.0,336.0 Z" fill="url(#st2)" stroke-width="2.2" />
<path d="M420.0,333.5 C421.6,333.3 425.1,332.0 429.9,332.4 C434.7,332.8 443.7,333.7 449.0,335.6 C454.3,337.6 458.2,340.6 461.7,344.1 C465.2,347.7 468.1,352.3 470.2,356.9 C472.3,361.5 473.8,366.4 474.5,371.7 C475.2,377.0 475.0,383.4 474.5,388.7 C474.0,394.0 472.7,399.0 471.3,403.6 C469.9,408.2 468.3,412.5 466.0,416.4 C463.7,420.3 460.3,424.2 457.5,427.0 C454.7,429.8 451.8,432.0 449.0,433.4 C446.2,434.8 443.2,435.6 440.5,435.5 C437.8,435.4 434.2,433.4 433.0,433.0 L431.0,430.0 C433.1,429.1 439.8,426.9 443.3,424.6 C446.8,422.3 449.5,419.6 452.0,416.0 C454.5,412.4 457.1,408.1 458.5,403.0 C459.9,397.9 460.6,391.4 460.6,385.6 C460.6,379.8 459.9,373.7 458.5,368.3 C457.1,362.9 455.2,357.9 452.0,353.2 C448.8,348.5 444.1,342.9 439.0,340.2 C433.9,337.5 424.6,337.4 421.7,336.9 Z" fill="url(#st2)" stroke-width="2.2" />
<path d="M415,334.5 L424,334.5" stroke-width="3"/>
<ellipse cx="417" cy="379" rx="35" ry="29.5" fill="#fff" stroke-width="2.2"/>
<circle cx="417" cy="447" r="16" fill="#fff" stroke-width="2.5"/>
<circle cx="417" cy="447" r="12.5" fill="#fff" stroke-width="1.3"/>
<path d="M423.3,457.8 L419.7,451.7 M428.8,451.2 L422.5,448.3 M422.5,448.3 L419.7,451.7 M421.5,444.7 L428.4,441.9 M421.4,445.0 L422.5,448.3 M421.5,444.7 L421.4,445.0 M412.8,458.8 L415.5,451.7 M405.8,452.5 L412.2,447.9 M412.2,447.9 L415.0,450.8 M415.0,450.8 L415.5,451.7 M419.7,451.7 L415.5,451.7 M405.0,443.5 L412.1,447.6 M412.1,447.6 L412.2,447.9 M412.1,447.6 L413.5,444.6 M413.5,444.6 L418.9,445.8 M418.9,445.8 L415.0,450.8 M418.9,445.8 L421.4,445.0 M408.8,437.6 L413.5,442.4 M420.3,435.0 L419.3,440.1 M419.3,440.1 L413.5,442.4 M413.5,444.6 L413.5,442.4 M421.5,444.7 L419.3,440.1" stroke-width="0.9"/>
<path d="M388.5,447.7 L397.5,447.7" stroke-width="3.4"/>
<path d="M437.5,446.6 L445.8,446.6" stroke-width="3.4"/>
<ellipse cx="391.7" cy="438.7" rx="2" ry="1.6" fill="#fff" stroke-width="1.2"/>
<ellipse cx="441.6" cy="439.7" rx="2" ry="1.6" fill="#fff" stroke-width="1.2"/>
<line x1="390.6" y1="450.6" x2="390.6" y2="464" stroke-width="1.3"/>
<line x1="477" y1="404" x2="485.5" y2="404" stroke-width="1.3"/>
<line x1="496.4" y1="449.5" x2="509" y2="455" stroke-width="1.3"/>
<text x="490.4" y="411.4" textLength="45.1" lengthAdjust="spacingAndGlyphs" font-size="19">rib-b.</text>
<text x="511.5" y="456.8" textLength="25.1" lengthAdjust="spacingAndGlyphs" font-size="19">rib</text>
<text x="331.6" y="485.3" textLength="116.4" lengthAdjust="spacingAndGlyphs" font-size="19">bony process</text>
<path d="M680,358.5 L686,358.6 C690,359.5 693,361 695,363 C697,366 698.5,369 699.5,371.5 C703,373 706,376 711,379.7 C714,381.5 716,383 718,384.4 C721,386 723,388.5 725,391 C729,396 732,401 736.3,404.7 C741,408 746,410 751.9,412.5 C757,414.5 761,416 764.4,417.2 C768,418.5 771,419.5 772.5,421.5 C772,423.5 770,424 767,423 C762,421.5 759,419.8 756.6,418.8 C750,417 745,415 740.9,414.1 C735,413 730,412.5 725.3,412.5 C720,413 717,413.5 714.4,414.1 C711,415 709,416 708.1,417.2 L703,419 L695,425 L665,424 C662,421 660,419.5 659,418.2 C656,417 653,416 651.1,415.6 C648,414.5 646,413.8 643.2,413 C640,412 637,411 634,410.4 C629,409.5 625,409 621,408.4 C616,408 612,407.7 607.8,407.7 C602,408 598,409 594.7,410.4 C590,412 586,414 583,415.6 C581,416 580.5,414.5 581.6,413 C582,412 583,411.5 584,411 C587,409 589,407.5 590.7,406.4 C595,404.5 598,403.8 601.2,403.2 C606,402.6 610,402.3 614.4,401.8 C617,399 619,396.5 621,394.6 C624,392 627,390 630,388 C633,386 636,385 639.3,384.1 C641,383 642,382.5 643.2,381.5 C645,379.5 646.5,377.5 648.5,376.2 C650,374.5 652,373.5 653.8,373 C655,372.5 656.5,372.2 657.7,372.3 C660,368 664,364.5 668,362.5 C672,360.5 676,359 680,358.5 Z" fill="url(#st2)" stroke-width="2.5" />
<path d="M620.5,402 C627,397 634,392 641,388.5 C644,387 646,386.5 647,388 C648,393 648.5,400 648.5,406.5 C645,407 641,406.8 637,406.3 C631,405.5 625,404 620.5,402 Z" fill="#fff" stroke-width="2.0" />
<path d="M709.7,390.6 C713,389 717,387.5 720.6,387.5 C723,392 726,398 728.4,404.7 C727,408 725.5,410 723.8,410.9 C719,411.8 715,412.3 711.3,412.5 C709.5,409 708.5,406 708.1,403.1 C708.3,398 708.8,394 709.7,390.6 Z" fill="#fff" stroke-width="2.0" />
<path d="M678,364 C685,364 691,368 694.5,375 C697,383 697.5,392 696,400 C693,405 688,407.5 680,407.5 C673,407.5 667,406 664,402 C661.5,396 661,388 662.5,381 C665,372 670,365 678,364 Z" fill="#fff" stroke-width="2.0" />
<path d="M678,374.2 C683,374.5 688,379 690.5,385 C692.5,391 692.5,396 690,399.5 C686,401.5 681,401.8 676,401.6 C671,401.3 667,400.5 665.5,398 C664.8,393 665.5,388 668,383 C670.5,378 674,374.3 678,374.2 Z" fill="#fff" stroke-width="2.1" />
<path d="M657,372.5 C655.5,385 655.5,400 658,414 M699.5,371.5 C702,385 702,400 700.5,413 M679,358.8 L679.5,364" stroke-width="1.4"/>
<circle cx="678" cy="421.5" r="13.5" fill="#fff" stroke-width="2.4"/>
<path d="M676.3,434.9 L677.7,428.7 M677.7,428.7 L682.4,427.4 M686.2,432.2 L682.4,427.4 M683.4,409.1 L679.8,414.6 M673.8,408.7 L675.5,413.9 M679.8,414.6 L675.5,413.9 M667.0,413.7 L672.3,417.3 M672.3,417.3 L672.9,417.3 M675.5,413.9 L672.9,417.3 M672.3,417.3 L667.0,423.0 M664.7,423.5 L667.0,423.0 M676.6,427.4 L673.3,426.3 M676.6,427.4 L677.6,423.5 M675.0,421.0 L672.4,424.9 M675.0,421.0 L677.6,423.5 M672.4,424.9 L673.3,426.3 M677.7,428.7 L676.6,427.4 M669.5,432.0 L673.3,426.3 M667.0,423.0 L672.4,424.9 M675.0,420.1 L672.9,417.3 M675.0,420.1 L675.0,421.0 M687.2,420.1 L685.9,424.2 M687.2,420.1 L684.2,418.3 M684.2,418.3 L681.8,418.3 M680.9,422.4 L682.8,425.9 M680.9,422.4 L681.3,419.0 M681.3,419.0 L681.8,418.3 M682.8,425.9 L685.9,424.2 M690.2,427.3 L685.9,424.2 M691.4,419.6 L687.2,420.1 M687.3,411.7 L684.2,418.3 M679.8,414.6 L681.8,418.3 M677.6,423.5 L680.9,422.4 M682.4,427.4 L682.8,425.9 M675.0,420.1 L681.3,419.0" stroke-width="0.9"/>
<circle cx="660.5" cy="414.5" r="1.5" fill="#fff" stroke-width="1"/>
<path d="M208.5,595.3 L207.9,598.0" stroke-width="1.25"/>
<path d="M215.8,595.1 L216.3,597.2" stroke-width="1.25"/>
<path d="M205.4,601.4 L206.4,603.6" stroke-width="1.25"/>
<path d="M212.7,601.4 L212.9,603.5" stroke-width="1.25"/>
<path d="M217.7,599.6 L218.4,602.8" stroke-width="1.25"/>
<path d="M202.8,606.8 L202.0,608.8" stroke-width="1.25"/>
<path d="M208.4,605.7 L209.6,608.1" stroke-width="1.25"/>
<path d="M216.6,604.9 L216.4,607.0" stroke-width="1.25"/>
<path d="M221.6,606.9 L222.2,608.8" stroke-width="1.25"/>
<path d="M205.0,609.1 L205.0,612.6" stroke-width="1.25"/>
<path d="M212.4,610.5 L212.1,612.7" stroke-width="1.25"/>
<path d="M219.0,609.3 L218.6,612.8" stroke-width="1.25"/>
<path d="M202.1,615.8 L201.9,618.0" stroke-width="1.25"/>
<path d="M209.3,617.0 L208.2,619.0" stroke-width="1.25"/>
<path d="M215.6,616.4 L216.4,619.3" stroke-width="1.25"/>
<path d="M220.9,615.0 L220.3,617.9" stroke-width="1.25"/>
<path d="M200.4,619.1 L200.9,622.4" stroke-width="1.25"/>
<path d="M206.2,619.9 L206.6,623.4" stroke-width="1.25"/>
<path d="M213.0,619.4 L212.2,621.8" stroke-width="1.25"/>
<path d="M218.4,619.8 L218.5,622.3" stroke-width="1.25"/>
<path d="M207.6,626.0 L209.1,628.8" stroke-width="1.25"/>
<path d="M216.5,625.5 L216.0,627.9" stroke-width="1.25"/>
<path d="M206.4,630.2 L205.5,632.6" stroke-width="1.25"/>
<path d="M213.2,629.8 L212.4,632.0" stroke-width="1.25"/>
<path d="M217.0,631.2 L218.1,634.5" stroke-width="1.25"/>
<path d="M217.2,631.3 L219.4,631.0" stroke-width="1.25"/>
<path d="M201.9,633.8 L205.0,633.7" stroke-width="1.25"/>
<path d="M208.6,634.1 L210.7,634.9" stroke-width="1.25"/>
<path d="M214.2,634.9 L216.8,636.0" stroke-width="1.25"/>
<path d="M218.9,633.7 L221.2,633.7" stroke-width="1.25"/>
<path d="M226.2,633.5 L228.4,634.1" stroke-width="1.25"/>
<path d="M204.8,639.9 L207.0,639.6" stroke-width="1.25"/>
<path d="M210.2,640.6 L213.7,640.7" stroke-width="1.25"/>
<path d="M215.5,640.2 L218.2,641.3" stroke-width="1.25"/>
<path d="M223.1,639.3 L225.0,640.1" stroke-width="1.25"/>
<path d="M339.3,599.8 L340.6,602.5" stroke-width="1.25"/>
<path d="M345.3,600.1 L346.1,603.3" stroke-width="1.25"/>
<path d="M343.5,604.6 L343.0,607.2" stroke-width="1.25"/>
<path d="M348.1,603.7 L347.8,606.0" stroke-width="1.25"/>
<path d="M338.9,608.6 L339.0,611.5" stroke-width="1.25"/>
<path d="M344.6,609.5 L345.1,612.7" stroke-width="1.25"/>
<path d="M351.0,609.7 L350.7,613.3" stroke-width="1.25"/>
<path d="M337.7,614.8 L338.7,617.2" stroke-width="1.25"/>
<path d="M342.0,614.8 L342.7,617.0" stroke-width="1.25"/>
<path d="M348.8,612.7 L347.3,615.9" stroke-width="1.25"/>
<path d="M339.6,619.2 L339.7,622.0" stroke-width="1.25"/>
<path d="M345.4,619.2 L346.0,621.5" stroke-width="1.25"/>
<path d="M351.9,617.5 L352.1,621.0" stroke-width="1.25"/>
<path d="M343.3,622.1 L344.1,625.4" stroke-width="1.25"/>
<path d="M348.7,623.0 L349.8,625.2" stroke-width="1.25"/>
<path d="M334.3,628.4 L337.6,629.7" stroke-width="1.25"/>
<path d="M324.5,633.7 L326.8,633.5" stroke-width="1.25"/>
<path d="M330.0,632.5 L332.9,632.9" stroke-width="1.25"/>
<path d="M336.6,632.2 L339.1,631.9" stroke-width="1.25"/>
<path d="M341.7,633.4 L344.7,632.4" stroke-width="1.25"/>
<path d="M349.1,631.8 L351.6,632.1" stroke-width="1.25"/>
<path d="M334.3,636.9 L336.8,637.0" stroke-width="1.25"/>
<path d="M338.2,637.8 L341.5,637.7" stroke-width="1.25"/>
<path d="M226.9,644.7 C232,645.5 238,646 243.9,646.9 C249,648.5 254,650 258.7,652.2 C261,654 263,655.5 265.1,656.4 C269,657.5 272,657.8 275.7,657.5 C279,656.5 281,655 284.2,654.3 C289,654.5 293,655.2 297,655.4 C302,655.3 306,655 309.7,654.3 C314,652.5 318,651 322.5,649 C326,647 329.5,644.5 333.1,642.6 C337,640.5 340,639.3 343.7,638.4 C347,637.5 350,636.8 352.2,636.2" stroke-width="1.6"/>
<ellipse cx="234" cy="640" rx="1.6" ry="1.1" fill="none" stroke-width="1"/>
<ellipse cx="243" cy="637" rx="1.6" ry="1.1" fill="none" stroke-width="1"/>
<ellipse cx="250" cy="643" rx="1.6" ry="1.1" fill="none" stroke-width="1"/>
<ellipse cx="258" cy="647" rx="1.6" ry="1.1" fill="none" stroke-width="1"/>
<ellipse cx="266" cy="652" rx="1.6" ry="1.1" fill="none" stroke-width="1"/>
<ellipse cx="274" cy="651" rx="1.6" ry="1.1" fill="none" stroke-width="1"/>
<ellipse cx="298" cy="651" rx="1.6" ry="1.1" fill="none" stroke-width="1"/>
<ellipse cx="310" cy="648" rx="1.6" ry="1.1" fill="none" stroke-width="1"/>
<ellipse cx="322" cy="642" rx="1.6" ry="1.1" fill="none" stroke-width="1"/>
<ellipse cx="332" cy="636" rx="1.6" ry="1.1" fill="none" stroke-width="1"/>
<ellipse cx="340" cy="635" rx="1.6" ry="1.1" fill="none" stroke-width="1"/>
<ellipse cx="283" cy="653" rx="1.6" ry="1.1" fill="none" stroke-width="1"/>
<ellipse cx="291" cy="651" rx="1.6" ry="1.1" fill="none" stroke-width="1"/>
<ellipse cx="262" cy="641" rx="1.6" ry="1.1" fill="none" stroke-width="1"/>
<ellipse cx="215" cy="637" rx="1.6" ry="1.1" fill="none" stroke-width="1"/>
<ellipse cx="207" cy="633" rx="1.6" ry="1.1" fill="none" stroke-width="1"/>
<ellipse cx="345" cy="629" rx="1.6" ry="1.1" fill="none" stroke-width="1"/>
<ellipse cx="226" cy="632" rx="1.6" ry="1.1" fill="none" stroke-width="1"/>
<path d="M284.0,640.0 L286.6,640.4" stroke-width="1.25"/>
<path d="M293.4,639.6 L295.8,639.3" stroke-width="1.25"/>
<path d="M257.3,644.5 L259.8,643.2" stroke-width="1.25"/>
<path d="M264.7,643.2 L267.6,644.5" stroke-width="1.25"/>
<path d="M268.7,642.6 L271.7,642.5" stroke-width="1.25"/>
<path d="M274.4,642.7 L276.8,643.3" stroke-width="1.25"/>
<path d="M281.1,643.1 L282.9,643.9" stroke-width="1.25"/>
<path d="M285.4,643.9 L287.6,644.2" stroke-width="1.25"/>
<path d="M290.2,642.6 L293.6,642.8" stroke-width="1.25"/>
<path d="M296.3,642.4 L298.9,642.9" stroke-width="1.25"/>
<path d="M303.2,643.9 L306.0,645.3" stroke-width="1.25"/>
<path d="M308.0,641.9 L310.5,642.7" stroke-width="1.25"/>
<path d="M313.4,643.1 L316.0,644.4" stroke-width="1.25"/>
<path d="M260.0,646.8 L263.0,648.1" stroke-width="1.25"/>
<path d="M267.4,647.0 L270.9,647.1" stroke-width="1.25"/>
<path d="M272.6,647.7 L274.6,648.7" stroke-width="1.25"/>
<path d="M276.8,648.6 L279.1,648.7" stroke-width="1.25"/>
<path d="M284.1,647.7 L286.5,646.8" stroke-width="1.25"/>
<path d="M287.6,647.2 L290.2,648.0" stroke-width="1.25"/>
<path d="M295.6,647.1 L297.7,646.3" stroke-width="1.25"/>
<path d="M299.8,646.8 L302.6,647.3" stroke-width="1.25"/>
<path d="M305.0,648.1 L308.4,649.1" stroke-width="1.25"/>
<path d="M310.0,646.9 L312.3,648.1" stroke-width="1.25"/>
<path d="M269.8,650.6 L272.3,651.9" stroke-width="1.25"/>
<path d="M274.5,651.9 L276.8,653.0" stroke-width="1.25"/>
<path d="M279.3,652.1 L281.9,650.9" stroke-width="1.25"/>
<path d="M290.9,651.1 L293.1,651.0" stroke-width="1.25"/>
<path d="M296.4,652.0 L299.2,651.1" stroke-width="1.25"/>
<path d="M243.6,633.5 L246.1,634.1" stroke-width="1.25"/>
<path d="M233.5,638.3 L236.9,639.1" stroke-width="1.25"/>
<path d="M240.0,638.4 L243.4,638.4" stroke-width="1.25"/>
<path d="M247.7,638.1 L250.1,639.1" stroke-width="1.25"/>
<path d="M254.2,639.9 L257.4,638.3" stroke-width="1.25"/>
<path d="M322.4,633.7 L325.6,633.8" stroke-width="1.25"/>
<path d="M328.6,633.4 L331.5,634.4" stroke-width="1.25"/>
<path d="M319.9,636.6 L322.3,637.7" stroke-width="1.25"/>
<path d="M327.2,637.2 L330.5,637.7" stroke-width="1.25"/>
<path d="M333.4,638.6 L335.8,637.4" stroke-width="1.25"/>
<path d="M338.9,638.5 L342.1,640.1" stroke-width="1.25"/>
<path d="M216.2,570.6 C214,575 214.5,582 216.2,587.3 C218,594 224,602 230,609 C236,615 242,621 246.5,626.7" stroke-width="1.6"/>
<path d="M216.2,570.6 C225,576 234,582 242,586.5 C250,590.5 256,593.5 262,594.5 C270,596 282,596 295,596.8 C303,595.5 312,590 320,585 C327,580 333,575 337.6,569.8" stroke-width="1.6"/>
<path d="M339.5,571 C335,577 329,583 322,588" stroke-width="1"/>
<path d="M353.5,573.6 C352,580 349,588 345.9,593.3 C342,599 336,606 330.8,610 C326,614 322,620 320,626 C319,629 318.6,631 318.6,632.7" stroke-width="1.6"/>
<path d="M356,574.5 C354.5,581 351.5,589 348,595" stroke-width="1"/>
<path d="M217.7,575.2 C228,581 245,589 258.6,594.8 C260.5,595.5 261.5,596.5 261.7,597.9 C259.5,605 256.5,614 254,620.6 C252.5,622 251,622.3 249.5,622.1 C243,617 237,613 232.9,610 C227,604 222,599 219.2,594.8 C217.5,590 217,586 217,582.7 C217,579 217.2,577 217.7,575.2 Z" fill="#fff" stroke-width="1.6" />
<ellipse cx="223" cy="586" rx="1.2" ry="1.5" fill="#000" stroke="none"/>
<ellipse cx="230" cy="588" rx="1.2" ry="1.5" fill="#000" stroke="none"/>
<ellipse cx="235" cy="596" rx="1.2" ry="1.5" fill="#000" stroke="none"/>
<ellipse cx="241" cy="592" rx="1.2" ry="1.5" fill="#000" stroke="none"/>
<ellipse cx="247" cy="598" rx="1.2" ry="1.5" fill="#000" stroke="none"/>
<ellipse cx="253" cy="599" rx="1.2" ry="1.5" fill="#000" stroke="none"/>
<ellipse cx="225" cy="596" rx="1.2" ry="1.5" fill="#000" stroke="none"/>
<ellipse cx="238" cy="604" rx="1.2" ry="1.5" fill="#000" stroke="none"/>
<ellipse cx="244" cy="606" rx="1.2" ry="1.5" fill="#000" stroke="none"/>
<ellipse cx="250" cy="612" rx="1.2" ry="1.5" fill="#000" stroke="none"/>
<ellipse cx="231" cy="602" rx="1.2" ry="1.5" fill="#000" stroke="none"/>
<path d="M312.6,596.4 C316,593.5 319,591.5 321.7,590.3 C327,586 332,582 336.8,578.2 C341,576.5 346,575.5 350.5,575.2 C350,580 349,584 347.4,587.3 C344,594 340,598.5 336.8,602.4 C332,606 328,610 323.2,613 C320.5,612 318.5,610.5 317.1,608.5 C315,606 313,603.5 311.8,601 C311.8,599 312,597.5 312.6,596.4 Z" fill="#fff" stroke-width="1.6" />
<ellipse cx="338" cy="579" rx="1.2" ry="1.5" fill="#000" stroke="none"/>
<ellipse cx="345" cy="580" rx="1.2" ry="1.5" fill="#000" stroke="none"/>
<ellipse cx="330" cy="586" rx="1.2" ry="1.5" fill="#000" stroke="none"/>
<ellipse cx="338" cy="587" rx="1.2" ry="1.5" fill="#000" stroke="none"/>
<ellipse cx="322" cy="594" rx="1.2" ry="1.5" fill="#000" stroke="none"/>
<ellipse cx="330" cy="594" rx="1.2" ry="1.5" fill="#000" stroke="none"/>
<ellipse cx="341" cy="592" rx="1.2" ry="1.5" fill="#000" stroke="none"/>
<ellipse cx="317" cy="600" rx="1.2" ry="1.5" fill="#000" stroke="none"/>
<ellipse cx="325" cy="601" rx="1.2" ry="1.5" fill="#000" stroke="none"/>
<ellipse cx="333" cy="598" rx="1.2" ry="1.5" fill="#000" stroke="none"/>
<ellipse cx="233" cy="622.1" rx="2.8" ry="1.5" fill="#fff" stroke-width="1.1"/>
<ellipse cx="330.8" cy="621.4" rx="2.8" ry="1.5" fill="#fff" stroke-width="1.1"/>
<ellipse cx="287.5" cy="624.4" rx="31.5" ry="28.2" fill="#fff" stroke-width="1.8"/>
<path d="M289.0,596.2 L287.6,613.9 M311.4,606.0 L296.7,618.2 M287.6,613.9 L296.7,618.2 M287.3,652.6 L287.0,634.3 M313.5,640.3 L298.5,629.3 M287.0,634.3 L298.5,629.3 M298.5,629.3 L296.7,618.2 M267.3,634.8 L286.2,634.0 M267.3,634.8 L279.0,616.3 M286.2,634.0 L279.8,616.4 M279.0,616.3 L279.8,616.4 M260.4,638.7 L267.3,634.8 M287.0,634.3 L286.2,634.0 M264.8,604.8 L279.0,616.3 M287.6,613.9 L279.8,616.4" stroke-width="1.1"/>
<path d="M473.3,604.0 L471.9,604.5" stroke-width="1.1"/>
<path d="M469.9,598.8 L469.2,599.7" stroke-width="1.1"/>
<path d="M467.8,596.0 L465.7,596.4" stroke-width="1.1"/>
<path d="M468.8,603.8 L467.3,604.5" stroke-width="1.1"/>
<path d="M465.3,600.7 L464.1,601.3" stroke-width="1.1"/>
<path d="M466.2,607.5 L464.9,607.8" stroke-width="1.1"/>
<path d="M464.5,604.7 L463.5,606.1" stroke-width="1.1"/>
<path d="M461.5,600.7 L460.5,601.8" stroke-width="1.1"/>
<path d="M462.4,607.1 L460.3,608.2" stroke-width="1.1"/>
<path d="M460.1,603.2 L458.0,604.1" stroke-width="1.1"/>
<path d="M461.3,612.0 L459.3,612.7" stroke-width="1.1"/>
<path d="M458.1,608.1 L456.9,609.4" stroke-width="1.1"/>
<path d="M456.1,604.3 L454.4,605.8" stroke-width="1.1"/>
<path d="M456.6,611.3 L455.7,612.5" stroke-width="1.1"/>
<path d="M452.7,608.9 L451.0,609.8" stroke-width="1.1"/>
<path d="M455.1,616.2 L454.1,617.2" stroke-width="1.1"/>
<path d="M451.2,613.3 L450.1,613.9" stroke-width="1.1"/>
<path d="M448.7,607.7 L447.5,608.4" stroke-width="1.1"/>
<path d="M449.4,617.0 L447.5,617.7" stroke-width="1.1"/>
<path d="M446.4,612.9 L445.6,613.8" stroke-width="1.1"/>
<path d="M447.4,621.2 L446.1,621.9" stroke-width="1.1"/>
<path d="M446.2,617.0 L444.3,618.7" stroke-width="1.1"/>
<path d="M442.4,611.7 L440.4,613.0" stroke-width="1.1"/>
<path d="M443.5,621.0 L442.2,621.9" stroke-width="1.1"/>
<path d="M440.7,616.5 L438.5,617.8" stroke-width="1.1"/>
<path d="M441.0,624.7 L438.9,625.2" stroke-width="1.1"/>
<path d="M438.4,620.8 L436.2,621.9" stroke-width="1.1"/>
<path d="M435.4,618.0 L433.9,618.6" stroke-width="1.1"/>
<path d="M437.1,625.5 L435.6,627.0" stroke-width="1.1"/>
<path d="M434.4,620.1 L433.1,621.4" stroke-width="1.1"/>
<path d="M434.2,630.1 L433.2,631.1" stroke-width="1.1"/>
<path d="M432.6,625.2 L431.3,626.3" stroke-width="1.1"/>
<path d="M429.8,621.6 L428.4,623.5" stroke-width="1.1"/>
<path d="M431.6,629.9 L430.0,630.5" stroke-width="1.1"/>
<path d="M429.0,626.0 L427.3,626.7" stroke-width="1.1"/>
<path d="M428.0,634.1 L426.9,634.6" stroke-width="1.1"/>
<path d="M425.5,629.6 L424.5,630.6" stroke-width="1.1"/>
<path d="M422.6,624.3 L421.5,625.7" stroke-width="1.1"/>
<path d="M424.0,633.9 L423.0,634.9" stroke-width="1.1"/>
<path d="M422.7,629.9 L420.7,630.8" stroke-width="1.1"/>
<path d="M464.8,595.7 L465.9,597.5" stroke-width="1.1"/>
<path d="M462.5,596.4 L462.7,597.7" stroke-width="1.1"/>
<path d="M456.9,597.6 L457.8,599.9" stroke-width="1.1"/>
<path d="M465.4,598.3 L466.5,600.6" stroke-width="1.1"/>
<path d="M461.7,601.7 L462.6,603.0" stroke-width="1.1"/>
<path d="M467.0,600.8 L468.0,602.9" stroke-width="1.1"/>
<path d="M464.3,602.5 L465.4,603.9" stroke-width="1.1"/>
<path d="M461.4,604.3 L461.8,606.5" stroke-width="1.1"/>
<path d="M467.9,605.2 L468.8,606.8" stroke-width="1.1"/>
<path d="M463.8,606.2 L465.3,608.1" stroke-width="1.1"/>
<path d="M470.3,608.0 L471.1,609.0" stroke-width="1.1"/>
<path d="M465.9,609.1 L467.0,610.2" stroke-width="1.1"/>
<path d="M463.4,610.4 L465.1,612.0" stroke-width="1.1"/>
<path d="M455.6,616.7 L457.7,616.3" stroke-width="1.1"/>
<path d="M457.1,621.4 L458.8,621.4" stroke-width="1.1"/>
<path d="M459.9,617.2 L461.5,616.9" stroke-width="1.1"/>
<path d="M461.3,622.8 L463.3,621.9" stroke-width="1.1"/>
<path d="M463.1,614.5 L464.9,614.4" stroke-width="1.1"/>
<path d="M464.6,618.4 L465.9,617.8" stroke-width="1.1"/>
<path d="M465.5,617.0 L467.1,616.5" stroke-width="1.1"/>
<path d="M468.1,619.7 L469.8,618.2" stroke-width="1.1"/>
<path d="M493,600 C497,597 501,595 505,594 M495,606 C493,612 493,620 494,628 M468,625 C477,623 486,623 492,625 M574,596 C577,597 579,598 581,598" stroke-width="1.2"/>
<path d="M455,577.5 C456,574.5 457.5,573 458.75,573 C461,573.5 463,575.5 465,577.5 C470,582 475,586 480,590 C485,594 490,597 493.75,600 C495,601.5 495.5,603.5 495,605 C494,607 492.5,608.5 491.25,608.75 C488,608 485,606.5 482.5,605 C477,601.5 472,599 467.5,596.25 C463,593.5 460,591 457.5,588.75 C455.5,586 455,584 455,582.5 Z" fill="#fff" stroke-width="1.6" />
<ellipse cx="459" cy="579" rx="1.1" ry="1.3" fill="#000" stroke="none"/>
<ellipse cx="463" cy="585" rx="1.1" ry="1.3" fill="#000" stroke="none"/>
<ellipse cx="468" cy="588" rx="1.1" ry="1.3" fill="#000" stroke="none"/>
<ellipse cx="474" cy="592" rx="1.1" ry="1.3" fill="#000" stroke="none"/>
<ellipse cx="480" cy="596" rx="1.1" ry="1.3" fill="#000" stroke="none"/>
<ellipse cx="486" cy="600" rx="1.1" ry="1.3" fill="#000" stroke="none"/>
<ellipse cx="490" cy="603" rx="1.1" ry="1.3" fill="#000" stroke="none"/>
<ellipse cx="470" cy="593" rx="1.1" ry="1.3" fill="#000" stroke="none"/>
<path d="M597.5,575.5 C599.5,575.5 601,577 601.25,578.75 C601,581 600,583 598.75,585 C595,589 591,593 587.5,596.25 C585.5,597.5 584,598.5 582.5,598.75 C581,598 580,596.5 580,595 C580.5,592.5 581.5,590.5 582.5,588.75 C585,585.5 587.5,582.5 590,580 C592,578 593.5,576.5 595,575.5 Z" fill="#fff" stroke-width="1.6" />
<ellipse cx="597" cy="580" rx="1.1" ry="1.3" fill="#000" stroke="none"/>
<ellipse cx="593" cy="584" rx="1.1" ry="1.3" fill="#000" stroke="none"/>
<ellipse cx="589" cy="588" rx="1.1" ry="1.3" fill="#000" stroke="none"/>
<ellipse cx="585" cy="592" rx="1.1" ry="1.3" fill="#000" stroke="none"/>
<path d="M467.5,623.75 C473,622.5 479,622.3 485,622.5 C488,623 490.5,623.8 492.5,625 C494,631 495.5,637 496.25,642.5 C494,642.5 492,642 490,641.25 C485,638.5 481,636.5 477.5,635 C474,633 471,631 468.75,628.75 C467.5,627 467.3,625.3 467.5,623.75 Z" fill="#fff" stroke-width="1.5" />
<ellipse cx="476" cy="627" rx="1.1" ry="1.3" fill="#000" stroke="none"/>
<ellipse cx="483" cy="627" rx="1.1" ry="1.3" fill="#000" stroke="none"/>
<ellipse cx="488" cy="632" rx="1.1" ry="1.3" fill="#000" stroke="none"/>
<ellipse cx="481" cy="632" rx="1.1" ry="1.3" fill="#000" stroke="none"/>
<ellipse cx="490" cy="638" rx="1.1" ry="1.3" fill="#000" stroke="none"/>
<ellipse cx="478.75" cy="612.5" rx="3.5" ry="2.2" fill="#fff" stroke-width="1.2"/>
<ellipse cx="539.4" cy="620" rx="48" ry="28" fill="#fff" stroke-width="2.2"/>
<ellipse cx="539.4" cy="620" rx="44.5" ry="24.5" fill="none" stroke-width="1.3"/>
<path d="M501.5,607.1 L518.0,622.1 M497.8,628.7 L518.0,622.1 M518.3,598.4 L524.8,610.1 M518.0,622.1 L519.2,622.4 M524.8,610.1 L519.2,622.4 M520.3,642.1 L523.6,629.8 M523.6,629.8 L519.2,622.4 M569.8,637.9 L561.1,624.9 M561.1,624.9 L579.4,609.3 M540.1,595.5 L540.4,604.3 M524.8,610.1 L534.0,610.8 M540.4,604.3 L534.0,610.8 M561.1,624.9 L559.8,624.3 M562.5,599.1 L555.6,610.6 M555.6,610.6 L559.8,624.3 M540.4,604.3 L549.4,610.0 M555.6,610.6 L549.4,610.0 M536.9,617.7 L542.4,618.9 M536.9,617.7 L531.4,627.7 M542.4,618.9 L549.1,627.6 M531.4,627.7 L544.1,632.9 M544.1,632.9 L549.1,627.6 M534.0,610.8 L536.9,617.7 M549.4,610.0 L542.4,618.9 M523.6,629.8 L531.4,627.7 M559.8,624.3 L549.1,627.6 M544.1,644.4 L544.1,632.9" stroke-width="1.1"/>
<path d="M325,648 L337.5,661" stroke-width="1.3"/>
<line x1="352" y1="585.8" x2="378" y2="585.8" stroke-width="1.3"/>
<line x1="349" y1="610.8" x2="378" y2="610.8" stroke-width="1.3"/>
<line x1="430" y1="583.75" x2="455" y2="585" stroke-width="1.3"/>
<line x1="430" y1="607.5" x2="463.75" y2="605" stroke-width="1.3"/>
<path d="M435,630 C438,634 441,638 442.5,641.25" stroke-width="1.3"/>
<text x="290.6" y="680.8" textLength="100.5" lengthAdjust="spacingAndGlyphs" font-size="19">basiventral</text>
<text x="380.6" y="590.8" textLength="46.8" lengthAdjust="spacingAndGlyphs" font-size="19">b’d.c.</text>
<text x="380.6" y="617.0" textLength="45.0" lengthAdjust="spacingAndGlyphs" font-size="19">rib-b.</text>
<text x="445.6" y="657.0" textLength="25.6" lengthAdjust="spacingAndGlyphs" font-size="19">rib</text>
</g>
</svg>
</body></html>
